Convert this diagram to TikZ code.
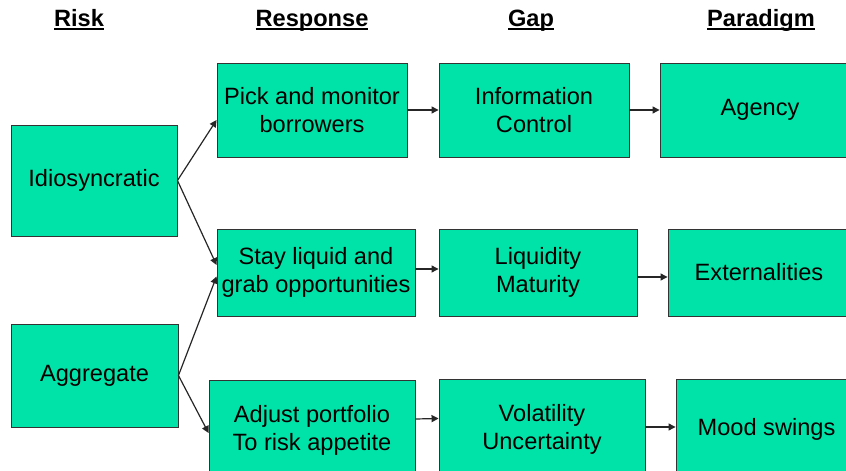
\documentclass[tikz,border=0pt]{standalone}
\usepackage{fontspec}
\setmainfont{Liberation Sans}
\usepackage{tikz}
\usetikzlibrary{arrows.meta}
\definecolor{boxgreen}{RGB}{0,227,168}
\newcommand{\hdr}[1]{\setbox0\hbox{\bfseries #1}\rlap{\rule[-3.5pt]{\wd0}{2pt}}\box0}
\tikzset{
  box/.style={draw=black!80, line width=.9pt, fill=boxgreen, align=center, inner sep=0pt, font=\fontsize{23.6}{28}\selectfont},
  conn/.style={black!85, line width=1.2pt, -{Triangle[length=7pt, width=7pt]}},
}

\begin{document}
\begin{tikzpicture}[x=1pt, y=1pt]
\useasboundingbox (0,0) rectangle (846,471);
\clip (0,0) rectangle (846,471);
\foreach \x/\t in {79/Risk,312/Response,531/Gap,761/Paradigm} {
  \node[anchor=base, font=\fontsize{23.6}{28}\selectfont] (h\t) at (\x,444) {\hdr{\t}};
}
\node[box, minimum width=166, minimum height=111] (idio) at (94,290.5) {Idiosyncratic};
\node[box, minimum width=167, minimum height=103] (agg) at (94.5,95.5) {Aggregate};
\node[box, minimum width=190, minimum height=94] (pick) at (312,361) {Pick and monitor\\borrowers};
\node[box, minimum width=198, minimum height=87] (stay) at (316,198.5) {Stay liquid and\\grab opportunities};
\node[box, minimum width=206, minimum height=100] (adj) at (312,41) {Adjust portfolio\\To risk appetite};
\node[box, minimum width=190, minimum height=94] (info) at (534,361) {Information\\Control};
\node[box, minimum width=198, minimum height=87] (liq) at (538,198.5) {Liquidity\\Maturity};
\node[box, minimum width=206, minimum height=101] (vol) at (542,41.5) {Volatility\\Uncertainty};
\node[box, minimum width=200, minimum height=94] (agency) at (760,361) {Agency};
\node[box, minimum width=182, minimum height=87] (ext) at (759,198.5) {Externalities};
\node[box, minimum width=181, minimum height=101] (mood) at (766.5,41.5) {Mood swings};
\draw[conn] (idio.east) -- ([yshift=-10]pick.west);
\draw[conn] (idio.east) -- ([yshift=7.5]stay.west);
\draw[conn] (agg.east) -- ([yshift=-4]stay.west);
\draw[conn] (agg.east) -- ([yshift=-3]adj.west);
\draw[conn] (pick.east) -- (info.west);
\draw[conn] (info.east) -- (agency.west);
\draw[conn] ([yshift=3.5]stay.east) -- ([yshift=3.5]liq.west);
\draw[conn] ([yshift=-4.5]liq.east) -- ([yshift=-4.5]ext.west);
\draw[conn] ([yshift=11]adj.east) -- ([yshift=11]vol.west);
\draw[conn] ([yshift=2.5]vol.east) -- ([yshift=2.5]mood.west);
\end{tikzpicture}
\end{document}
